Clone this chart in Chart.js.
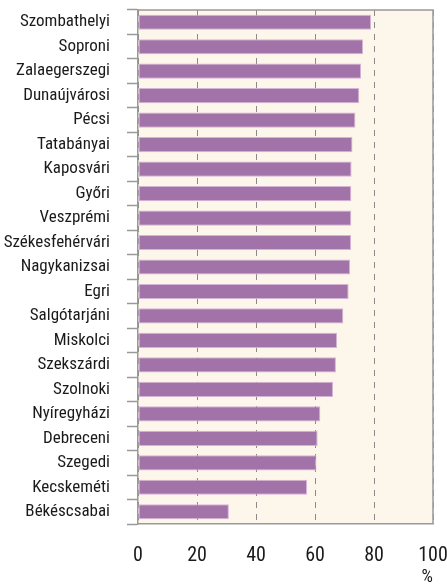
<!DOCTYPE html>
<html>
<head>
<meta charset="utf-8">
<script src="https://cdn.jsdelivr.net/npm/chart.js@4"></script>
<style>
    html, body { margin: 0; padding: 0; background: #fff; }
    #wrap { width: 447px; height: 584px; position: relative; }
</style>
</head>
<body>
<div id="wrap"><canvas id="myChart"></canvas></div>
<script>
// values (%)
const cities = ['Szombathelyi', 'Soproni', 'Zalaegerszegi', 'Dunaújvárosi', 'Pécsi', 'Tatabányai',
    'Kaposvári', 'Győri', 'Veszprémi', 'Székesfehérvári', 'Nagykanizsai', 'Egri', 'Salgótarjáni',
    'Miskolci', 'Szekszárdi', 'Szolnoki', 'Nyíregyházi', 'Debreceni', 'Szegedi', 'Kecskeméti', 'Békéscsabai'];
const values = [79.0, 76.3, 75.6, 75.0, 73.7, 72.7, 72.4, 72.3, 72.3, 72.2, 71.9, 71.4, 69.6,
    67.5, 67.1, 66.1, 61.8, 60.9, 60.5, 57.3, 30.8];
const xTicks = [0, 20, 40, 60, 80, 100];

const fontFamily = "'Roboto Condensed', 'DejaVu Sans Condensed', sans-serif";
const frameColor = '#999';

// drop the automatic label padding so the plot box sits where it should
function noPadding(scale) {
    scale.paddingTop = 0;
    scale.paddingBottom = 0;
    scale.paddingLeft = 0;
    scale.paddingRight = 0;
}

// cream plot background + top/right frame
const plotFrame = {
    id: 'plotFrame',
    beforeDraw(chart) {
        const a = chart.chartArea;
        const ctx = chart.ctx;
        ctx.save();
        ctx.fillStyle = '#fdf6ea';
        ctx.fillRect(a.left, a.top, a.right - a.left, a.bottom - a.top);
        ctx.restore();
    },
    afterDraw(chart) {
        const a = chart.chartArea;
        const ctx = chart.ctx;
        ctx.save();
        ctx.strokeStyle = frameColor;
        ctx.lineWidth = 1.5;
        ctx.beginPath();
        ctx.moveTo(a.left, a.top);
        ctx.lineTo(a.right, a.top);
        ctx.lineTo(a.right, a.bottom);
        ctx.stroke();
        ctx.restore();
    }
};

const ctx = document.getElementById('myChart').getContext('2d');
new Chart(ctx, {
    type: 'bar',
    data: {
        labels: cities,
        datasets: [{
            data: values,
            backgroundColor: '#a273a9',
            borderColor: '#d6b4d6',
            borderWidth: 1,
            borderSkipped: false,
            categoryPercentage: 1,
            barPercentage: 0.62
        }]
    },
    options: {
        indexAxis: 'y',
        responsive: true,
        maintainAspectRatio: false,
        animation: false,
        layout: { padding: { top: 10, right: 14, left: 0, bottom: 0 } },
        plugins: {
            legend: { display: false },
            tooltip: { enabled: false }
        },
        scales: {
            x: {
                min: 0,
                max: 100,
                afterBuildTicks: (scale) => { scale.ticks = xTicks.map(v => ({ value: v })); },
                afterFit: (scale) => { scale.height = 60; noPadding(scale); },
                grid: {
                    color: (c) => (c.tick && c.tick.value === 100) ? frameColor : '#8a8a8a',
                    lineWidth: 1,
                    drawTicks: false
                },
                border: { color: frameColor, width: 1.5, dash: [6, 6] },
                ticks: {
                    padding: 20,
                    color: '#1a1a1a',
                    font: { family: fontFamily, size: 20 }
                },
                title: {
                    display: true,
                    text: '%',
                    align: 'end',
                    color: '#1a1a1a',
                    padding: { top: 0, bottom: -4 },
                    font: { family: fontFamily, size: 18 }
                }
            },
            y: {
                afterFit: (scale) => { scale.width = 138; noPadding(scale); },
                grid: {
                    offset: true,
                    drawOnChartArea: false,
                    drawTicks: true,
                    tickLength: 11,
                    tickColor: frameColor,
                    tickWidth: 1.5
                },
                border: { color: frameColor, width: 1.5 },
                ticks: {
                    padding: 17,
                    color: '#1a1a1a',
                    autoSkip: false,
                    font: { family: fontFamily, size: 17 }
                }
            }
        }
    },
    plugins: [plotFrame]
});
</script>
</body>
</html>
